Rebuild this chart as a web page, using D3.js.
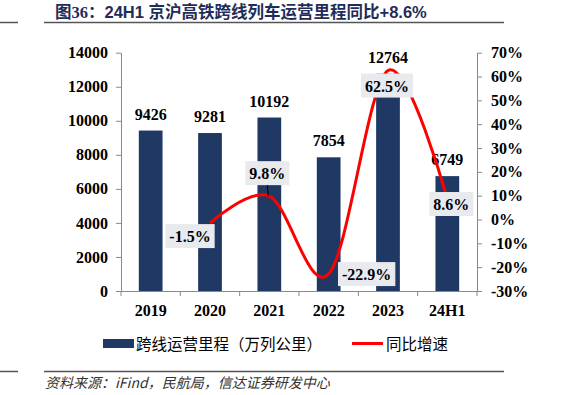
<html>
<head>
<meta http-equiv="Content-Type" content="text/html;charset=UTF-8">
<title>京沪高铁跨线列车运营里程</title>
<style type="text/css">
    *{margin: 0;padding: 0;}
    body{background: #fff;}
    svg{display: block;}
</style>
</head>
<body>
<div class="container"></div>
<script type="text/javascript" src="https://cdn.jsdelivr.net/npm/d3@7/dist/d3.min.js"></script>
<script>
    // 数据
    var categories = ["2019", "2020", "2021", "2022", "2023", "24H1"];
    var mileage = [9426, 9281, 10192, 7854, 12764, 6749];      // 跨线运营里程（万列公里）
    var growth = [null, -1.5, 9.8, -22.9, 62.5, 8.6];          // 同比增速 %
    var leftTicks = [0, 2000, 4000, 6000, 8000, 10000, 12000, 14000];
    var rightTicks = [-30, -20, -10, 0, 10, 20, 30, 40, 50, 60, 70];

    // 百分比标签相对点的偏移
    var labelOffset = [null, [-20, 13], [-2, -23], [38, 0], [-1, 15], [4, 5]];

    var width = 573, height = 395;
    var barColor = "#1f3864", lineColor = "#ff0000";
    var serif = "'Liberation Serif', 'Times New Roman', 'DejaVu Serif', serif";
    var cn = "'Noto Sans CJK SC', sans-serif";

    function num(sel) {
        return sel.style("font-family", serif).style("font-weight", "bold").style("font-size", "16px");
    }

    var svg = d3.select(".container").append("svg")
        .attr("width", width)
        .attr("height", height);

    svg.append("rect").attr("width", width).attr("height", height).attr("fill", "#fff");

    // 标题
    var title = svg.append("text").attr("x", 55).attr("y", 18)
        .attr("fill", "#1f2d5a").style("font-size", "16.5px").style("font-weight", "bold")
        .style("font-family", cn);
    title.append("tspan").text("图");
    title.append("tspan").style("font-family", serif).text("36");
    title.append("tspan").text("：");
    title.append("tspan").style("font-family", "'Liberation Sans', Arial, sans-serif").text("24H1 ");
    title.append("tspan").text("京沪高铁跨线列车运营里程同比");
    title.append("tspan").style("font-family", "'Liberation Sans', Arial, sans-serif").text("+8.6%");

    // 分隔线
    [[0, 18, 22.5], [44, 504, 22.5], [0, 18, 371.5], [44, 504, 371.5]].forEach(function (l) {
        svg.append("line").attr("x1", l[0]).attr("x2", l[1]).attr("y1", l[2]).attr("y2", l[2])
            .attr("stroke", "#555").attr("stroke-width", 1.5);
    });

    // 比例尺
    var x = d3.scaleBand().domain(categories).range([121, 477])
        .paddingInner(0.6).paddingOuter(0.3);
    var yL = d3.scaleLinear().domain([0, 14000]).range([291, 52.7]);
    var yR = d3.scaleLinear().domain([-30, 70]).range([291, 52.7]);

    // 左轴
    var gl = svg.append("g").attr("transform", "translate(121,0)")
        .call(d3.axisLeft(yL).tickValues(leftTicks).tickSize(5).tickPadding(8).tickSizeOuter(0)
            .tickFormat(d3.format("d")));
    num(gl.selectAll("text")).attr("fill", "#000");

    // 右轴
    var gr = svg.append("g").attr("transform", "translate(477,0)")
        .call(d3.axisRight(yR).tickValues(rightTicks).tickSize(5).tickPadding(9).tickSizeOuter(0)
            .tickFormat(function (d) { return d + "%"; }));
    num(gr.selectAll("text")).attr("fill", "#000");

    // 底轴
    var gb = svg.append("g").attr("transform", "translate(0,291)")
        .call(d3.axisBottom(x).tickSize(0).tickPadding(14).tickSizeOuter(0));
    num(gb.selectAll("text")).attr("fill", "#000");
    var gap = (x.step() - x.bandwidth()) / 2;
    var bounds = categories.map(function (c) { return x(c) - gap; });
    bounds.push(x(categories[categories.length - 1]) + x.bandwidth() + gap);
    gb.selectAll(".bt").data(bounds).enter().append("line")
        .attr("x1", function (d) { return d; }).attr("x2", function (d) { return d; })
        .attr("y1", 0).attr("y2", 5).attr("stroke", "#888");

    svg.selectAll(".domain").attr("stroke", "#888");
    svg.selectAll(".tick line").attr("stroke", "#888");

    // 柱
    svg.selectAll(".bar").data(mileage).enter().append("rect")
        .attr("x", function (d, i) { return x(categories[i]); })
        .attr("y", function (d) { return yL(d); })
        .attr("width", x.bandwidth())
        .attr("height", function (d) { return yL(0) - yL(d); })
        .attr("fill", barColor);

    num(svg.selectAll(".barlab").data(mileage).enter().append("text"))
        .attr("text-anchor", "middle")
        .attr("x", function (d, i) { return x(categories[i]) + x.bandwidth() / 2; })
        .attr("y", function (d) { return yL(d) - 11; })
        .text(function (d) { return d; });

    // 折线
    var pts = growth.map(function (d, i) { return { v: d, c: categories[i], i: i }; })
        .filter(function (d) { return d.v !== null; });
    var line = d3.line()
        .x(function (d) { return x(d.c) + x.bandwidth() / 2; })
        .y(function (d) { return yR(d.v); })
        .curve(d3.curveCatmullRom.alpha(0));
    svg.append("path").datum(pts).attr("d", line)
        .attr("fill", "none").attr("stroke", lineColor).attr("stroke-width", 3);

    // 百分比标签
    pts.forEach(function (d) {
        var px = x(d.c) + x.bandwidth() / 2, py = yR(d.v);
        var o = labelOffset[d.i];
        var cx = px + o[0], cy = py + o[1];
        var g = svg.append("g");
        var t = num(g.append("text"))
            .attr("text-anchor", "middle").attr("x", cx).attr("y", cy + 6)
            .text(d.v.toFixed(1) + "%");
        var bb = t.node().getBBox();
        g.insert("rect", "text").attr("x", bb.x - 4).attr("y", cy - 12)
            .attr("width", bb.width + 8).attr("height", 24).attr("fill", "#e8eaee");
        if (d.c === "2021") {
            svg.append("line").attr("x1", cx).attr("y1", cy + 12).attr("x2", px - 1).attr("y2", py)
                .attr("stroke", "#000").attr("stroke-width", 1);
        }
    });

    // 图例
    svg.append("rect").attr("x", 103).attr("y", 339).attr("width", 31).attr("height", 9).attr("fill", barColor);
    svg.append("text").attr("x", 136).attr("y", 349.5).style("font-family", cn).style("font-size", "15.5px")
        .attr("fill", "#000").text("跨线运营里程（万列公里）");
    svg.append("line").attr("x1", 352).attr("x2", 383).attr("y1", 343.5).attr("y2", 343.5)
        .attr("stroke", lineColor).attr("stroke-width", 3);
    svg.append("text").attr("x", 386).attr("y", 349.5).style("font-family", cn).style("font-size", "15.5px")
        .attr("fill", "#000").text("同比增速");

    // 来源
    svg.append("text").attr("x", 45).attr("y", 388).style("font-family", cn).style("font-size", "14px")
        .style("font-style", "italic").attr("fill", "#333")
        .text("资料来源：iFind，民航局，信达证券研发中心");
</script>
</body>
</html>
